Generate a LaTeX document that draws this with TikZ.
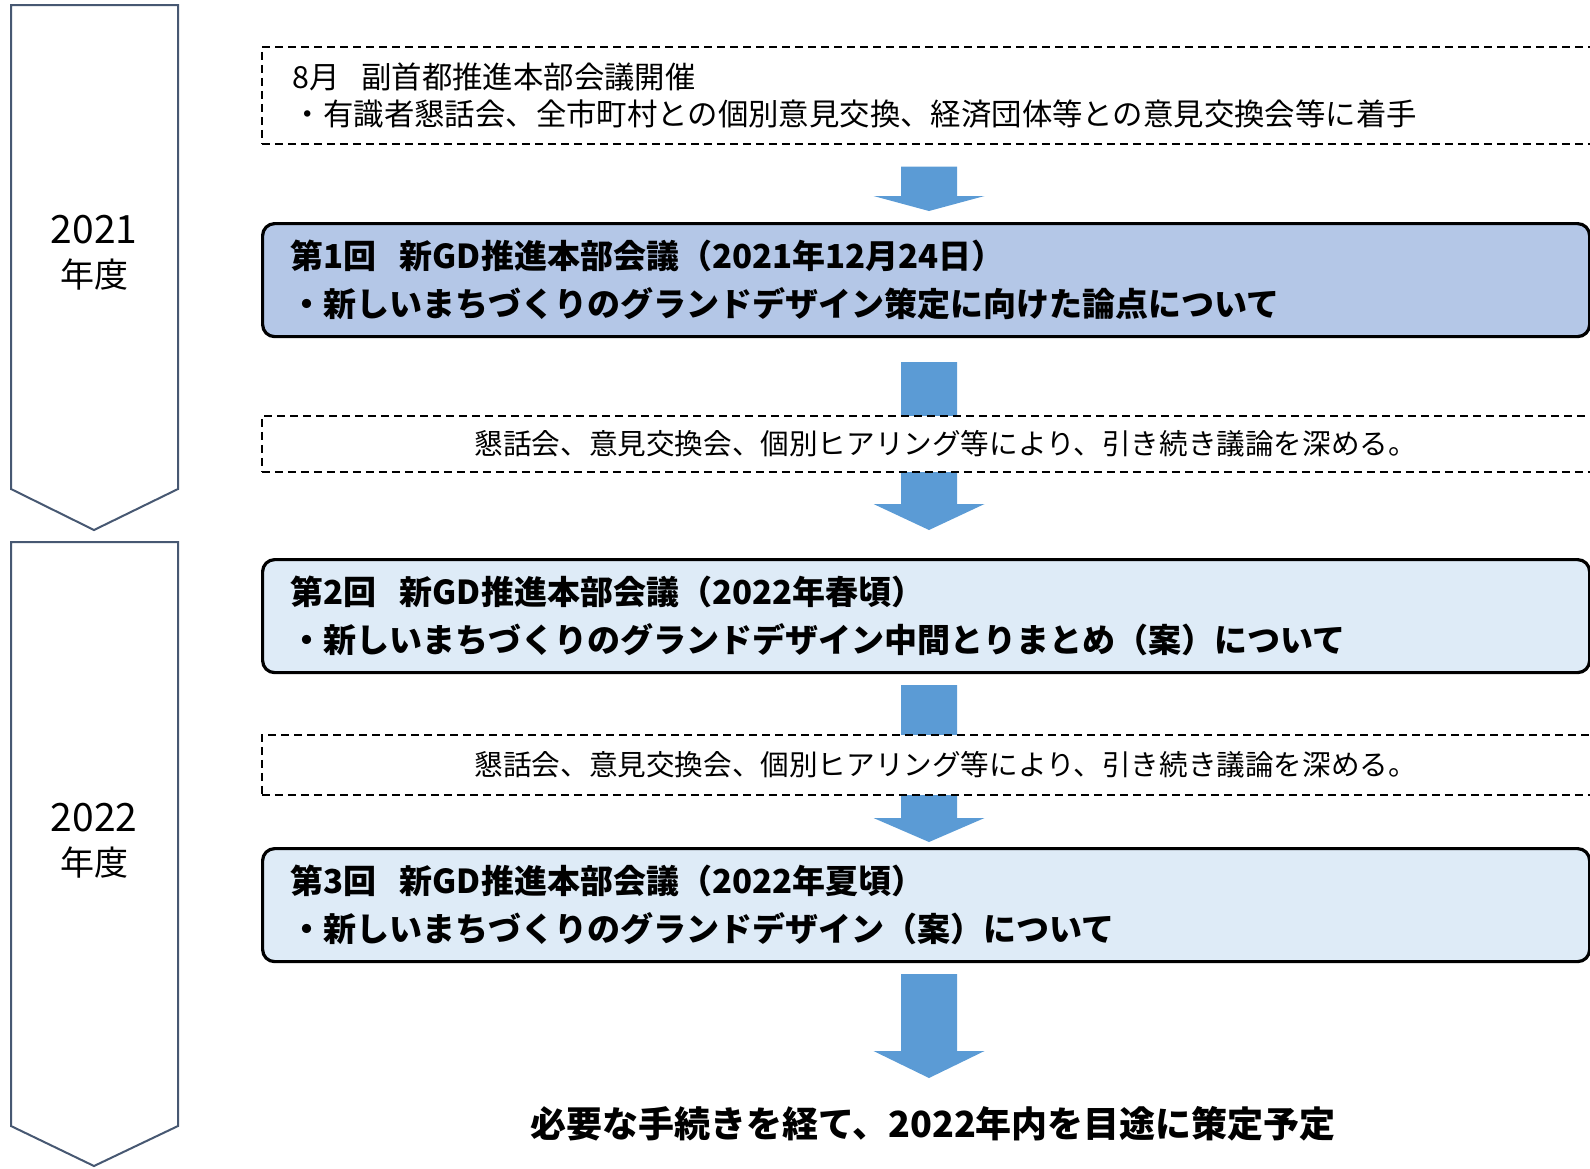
\documentclass[tikz,border=0pt]{standalone}
\usepackage{fontspec}
\setmainfont{Noto Sans CJK JP}
\usetikzlibrary{calc,backgrounds}
\definecolor{arrowblue}{HTML}{5B9BD5}
\definecolor{firstfill}{HTML}{B4C7E7}
\definecolor{nextfill}{HTML}{DEEBF7}
\definecolor{yearline}{HTML}{475872}

% block arrow: start, tip, head length
\newcommand\fatarrow[3]{%
  \fill[arrowblue] ($(#1)+(-28,0)$) -- ($(#1)+(28,0)$) -- ($(#2)+(28,-#3)$)
    -- ($(#2)+(55.5,-#3)$) -- (#2) -- ($(#2)+(-55.5,-#3)$) -- ($(#2)+(-28,-#3)$) -- cycle;}

\begin{document}
\begin{tikzpicture}[%
  x=0.5pt, y=-0.5pt,
  yearband/.style={draw=yearline, line width=1pt, fill=white},
  yearlabel/.style={align=center, font=\fontsize{17}{22}\selectfont},
  notebox/.style={draw, dash pattern=on 4pt off 2.5pt, line width=0.8pt, fill=white,
    anchor=north west, text width=639pt, inner xsep=15.5pt,
    font=\fontsize{15.2}{18.5}\selectfont},
  meetbox/.style={draw, line width=1.6pt, rounded corners=6pt, anchor=north west,
    text width=635.5pt, inner xsep=14pt, minimum height=56.5pt, align=left,
    font=\bfseries\fontsize{16.5}{24}\selectfont}]
\useasboundingbox (0,0) rectangle (1590,1168);
\clip (0,0) rectangle (1590,1168);

% fiscal years
\draw[yearband] (11,5) -- (178,5) -- (178,489) -- (94,530) -- (11,489) -- cycle;
\draw[yearband] (11,542) -- (178,542) -- (178,1126) -- (94,1166) -- (11,1126) -- cycle;
\node[yearlabel] (fy1) at (94,253) {{\fontsize{19.5}{22}\selectfont 2021}\\年度};
\node[yearlabel] (fy2) at (94,841) {{\fontsize{19.5}{22}\selectfont 2022}\\年度};

% steps
\node[notebox, align=left, minimum height=48.5pt] (note1) at (261,46)
  {8月\hspace{0.7em}副首都推進本部会議開催\\・有識者懇話会、全市町村との個別意見交換、経済団体等との意見交換会等に着手};
\node[meetbox, fill=firstfill] (box1) at (261,222)
  {第1回\hspace{0.7em}新GD推進本部会議（2021年12月24日）\\・新しいまちづくりのグランドデザイン策定に向けた論点について};
\node[notebox, align=center, text width=653pt, minimum height=28pt, font=\fontsize{14.3}{18}\selectfont] (note2) at (261,415)
  {懇話会、意見交換会、個別ヒアリング等により、引き続き議論を深める。};
\node[meetbox, fill=nextfill] (box2) at (261,558)
  {第2回\hspace{0.7em}新GD推進本部会議（2022年春頃）\\・新しいまちづくりのグランドデザイン中間とりまとめ（案）について};
\node[notebox, align=center, text width=653pt, minimum height=30pt, font=\fontsize{14.3}{18}\selectfont] (note3) at (261,734)
  {懇話会、意見交換会、個別ヒアリング等により、引き続き議論を深める。};
\node[meetbox, fill=nextfill] (box3) at (261,847)
  {第3回\hspace{0.7em}新GD推進本部会議（2022年夏頃）\\・新しいまちづくりのグランドデザイン（案）について};
\node[font=\bfseries\fontsize{18}{22}\selectfont] (goal) at (933,1124)
  {必要な手続きを経て、2022年内を目途に策定予定};

% arrows
\begin{scope}[on background layer]
  \coordinate (mid) at (929,0);
  \coordinate (a1) at ($(note1.south -| mid)+(0,22)$);
  \coordinate (b1) at ($(box1.north -| mid)+(0,-11)$);
  \coordinate (a2) at ($(box1.south -| mid)+(0,24)$);
  \coordinate (b2) at ($(box2.north -| mid)+(0,-28)$);
  \coordinate (a3) at ($(box2.south -| mid)+(0,11)$);
  \coordinate (b3) at ($(box3.north -| mid)+(0,-5)$);
  \coordinate (a4) at ($(box3.south -| mid)+(0,11)$);
  \coordinate (b4) at (929,1078);
  \fatarrow{a1}{b1}{15}
  \fatarrow{a2}{b2}{26}
  \fatarrow{a3}{b3}{24}
  \fatarrow{a4}{b4}{27}
\end{scope}
\end{tikzpicture}
\end{document}
